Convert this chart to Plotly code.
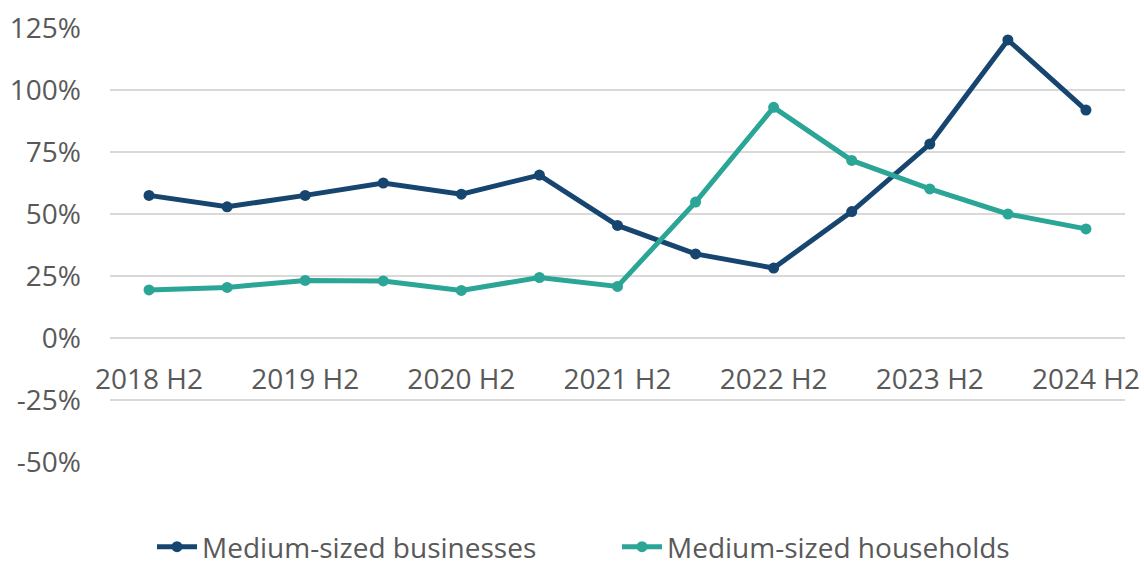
import plotly.graph_objects as go

categories = ["2018 H2", "2019 H1", "2019 H2", "2020 H1", "2020 H2", "2021 H1", "2021 H2",
              "2022 H1", "2022 H2", "2023 H1", "2023 H2", "2024 H1", "2024 H2"]
businesses = [57.5, 52.9, 57.5, 62.5, 58.0, 65.7, 45.4, 33.9, 28.2, 51.0, 78.2, 120.2, 91.9]
households = [19.4, 20.4, 23.2, 23.0, 19.2, 24.4, 20.8, 54.8, 93.0, 71.6, 60.1, 50.0, 44.0]
tick_labels = ["2018 H2", "2019 H2", "2020 H2", "2021 H2", "2022 H2", "2023 H2", "2024 H2"]

NAVY = "#16466F"
TEAL = "#2BA596"
GREY = "#595959"
FONT = "Open Sans"
FS = 28

fig = go.Figure()
fig.add_trace(go.Scatter(x=categories, y=businesses, name="Medium-sized businesses",
                         mode="lines+markers", line=dict(color=NAVY, width=5),
                         marker=dict(color=NAVY, size=11)))
fig.add_trace(go.Scatter(x=categories, y=households, name="Medium-sized households",
                         mode="lines+markers", line=dict(color=TEAL, width=5),
                         marker=dict(color=TEAL, size=11)))

ymin, ymax = -50, 125
fig.update_layout(
    width=1144, height=565,
    margin=dict(l=110, r=19, t=28, b=103, autoexpand=False),
    paper_bgcolor="white", plot_bgcolor="white",
    font=dict(family=FONT, color=GREY, size=FS),
    showlegend=True,
    legend=dict(orientation="h", x=0.5 + 45 / 1144, xanchor="center", xref="container",
                y=1 - 547 / 565, yanchor="middle", yref="container",
                font=dict(size=FS, color=GREY), itemwidth=40,
                entrywidth=410, entrywidthmode="pixels"),
    xaxis=dict(type="category", tickmode="array", tickvals=tick_labels, ticktext=tick_labels,
               showgrid=False, zeroline=False, showline=False, ticks="",
               anchor="free", position=(0 - ymin) / (ymax - ymin),
               ticklabelstandoff=22,
               tickfont=dict(size=FS, color=GREY), range=[-0.5, 12.5]),
    yaxis=dict(range=[ymin, ymax], tickmode="array",
               tickvals=[-50, -25, 0, 25, 50, 75, 100, 125],
               ticktext=["-50%", "-25%", "0%", "25%", "50%", "75%", "100%", "125%"],
               showgrid=True, gridcolor="#D9D9D9", gridwidth=2, zeroline=False,
               showline=False, ticks="", ticklabelstandoff=28,
               tickfont=dict(size=FS, color=GREY)),
)

fig.write_html("out.html")
